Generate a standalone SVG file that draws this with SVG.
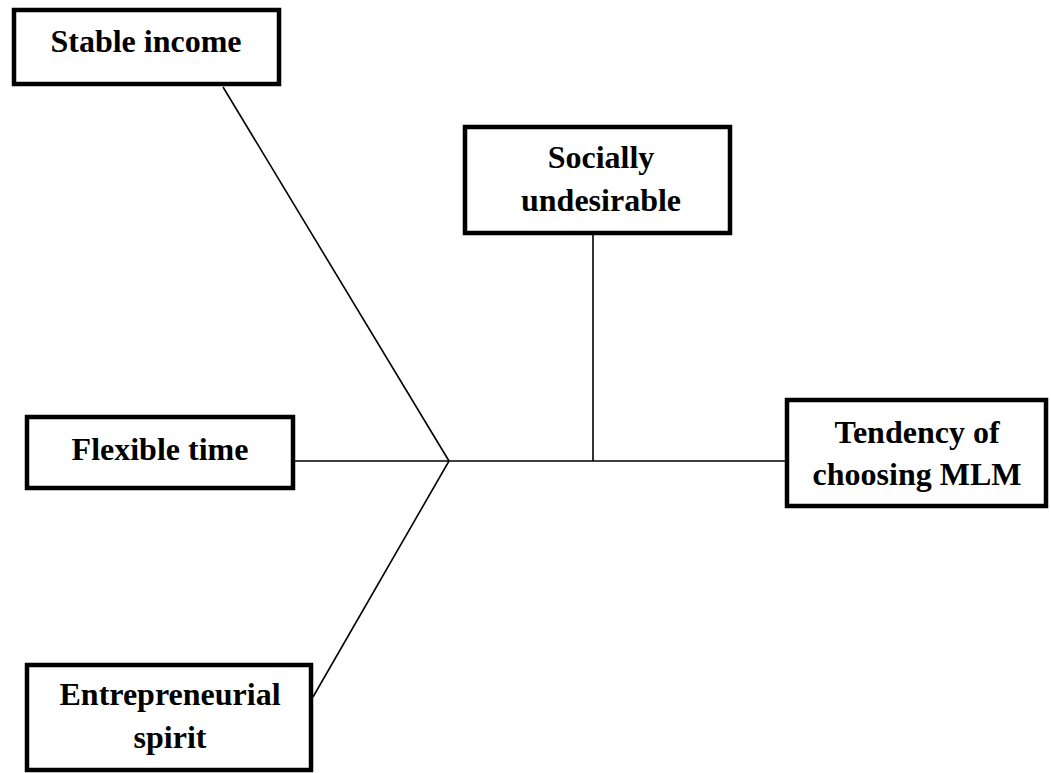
<svg xmlns="http://www.w3.org/2000/svg" width="1051" height="773" viewBox="0 0 1051 773">
<style>
.box{fill:#fff;stroke:#000;stroke-width:4.5}
.lbl{font-family:"Liberation Serif","Times New Roman",serif;font-weight:bold;font-size:32px;fill:#000;text-anchor:middle}
.ln{stroke:#000;stroke-width:1.6;fill:none}
</style>
<rect width="1051" height="773" fill="#fff"/>
<g id="connectors">
<line class="ln" x1="223" y1="87" x2="449" y2="461"/>
<line class="ln" x1="295" y1="461" x2="785" y2="461"/>
<line class="ln" x1="313" y1="697" x2="449" y2="461"/>
<line class="ln" x1="593" y1="235" x2="593" y2="461"/>
</g>
<g id="stable-income">
<rect class="box" x="14" y="10" width="265" height="74"/>
<text class="lbl" x="146" y="52">Stable income</text>
</g>
<g id="socially-undesirable">
<rect class="box" x="465" y="127" width="265" height="106"/>
<text class="lbl" x="601" y="168">Socially</text>
<text class="lbl" x="601" y="211">undesirable</text>
</g>
<g id="flexible-time">
<rect class="box" x="27" y="417" width="266" height="71"/>
<text class="lbl" x="160" y="460">Flexible time</text>
</g>
<g id="tendency">
<rect class="box" x="787" y="400" width="259" height="106"/>
<text class="lbl" x="917" y="443">Tendency of</text>
<text class="lbl" x="917" y="485">choosing MLM</text>
</g>
<g id="entrepreneurial-spirit">
<rect class="box" x="27" y="665" width="284" height="105"/>
<text class="lbl" x="170" y="705">Entrepreneurial</text>
<text class="lbl" x="170" y="748">spirit</text>
</g>
</svg>
